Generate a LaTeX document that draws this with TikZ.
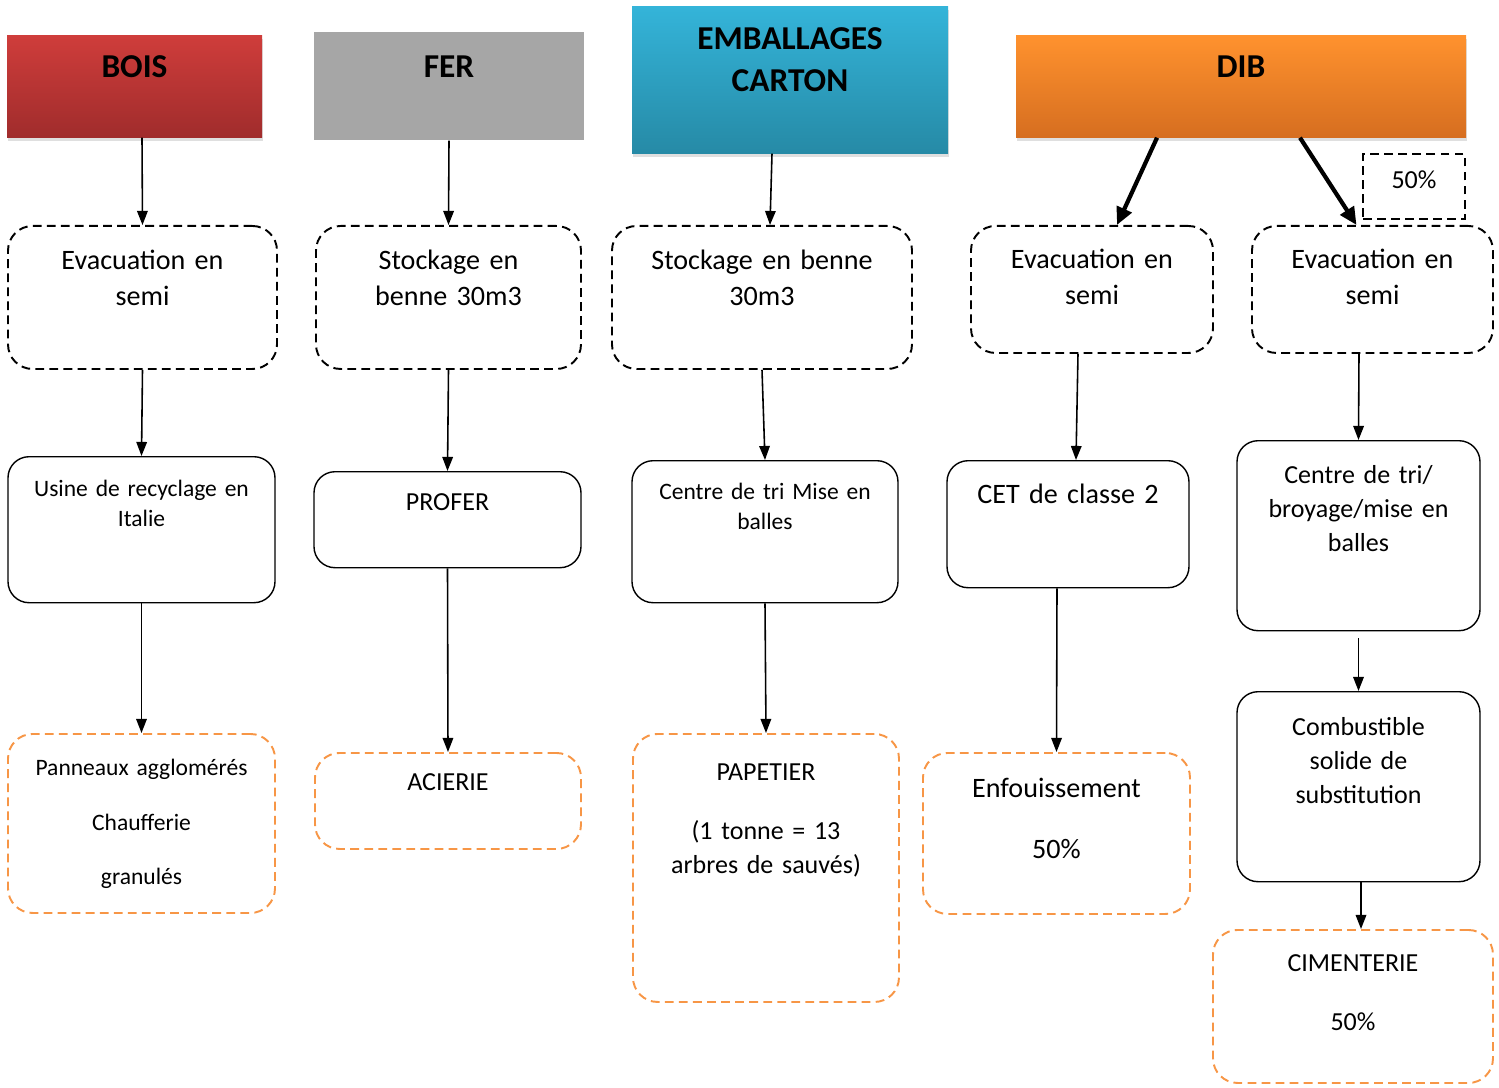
\documentclass[tikz,border=0pt]{standalone}
\usepackage{fontspec}
\setmainfont{Carlito}
\usepackage{xcolor}
\usetikzlibrary{arrows.meta,shadows}

\definecolor{boistop}{RGB}{207,61,59}
\definecolor{boisbot}{RGB}{160,44,44}
\definecolor{fergray}{RGB}{166,166,166}
\definecolor{cartontop}{RGB}{52,180,217}
\definecolor{cartonbot}{RGB}{38,138,166}
\definecolor{dibtop}{RGB}{255,146,46}
\definecolor{dibbot}{RGB}{214,110,32}
\definecolor{outorange}{RGB}{247,150,70}

\begin{document}
\begin{tikzpicture}[x=0.02cm,y=-0.02cm]
  \tikzset{bx/.style n args={3}{anchor=north, align=center, inner xsep=4pt, inner ysep=0pt,
      minimum width=#1*0.02cm, text width=#1*0.02cm-8pt,
      text height=#3*0.02cm, text depth=(#2-#3)*0.02cm}}
  \tikzset{head/.style = {font=\fontsize{19}{23.8}\selectfont\bfseries}}
  \tikzset{shadowed/.style = {drop shadow={shadow xshift=0.6pt, shadow yshift=-2pt, opacity=0.25}}}
  \tikzset{dashbox/.style = {draw, dash pattern=on 5pt off 3pt, line width=1.1pt, rounded corners=14pt}}
  \tikzset{solidbox/.style = {draw, line width=0.8pt, rounded corners=12pt}}
  \tikzset{outbox/.style = {draw=outorange, dash pattern=on 5pt off 3pt, line width=1.1pt, rounded corners=14pt}}
  \tikzset{fontL/.style = {font=\fontsize{16}{20.4}\selectfont}}
  \tikzset{fontM/.style = {font=\fontsize{14.8}{19.2}\selectfont}}
  \tikzset{fontS/.style = {font=\fontsize{13.4}{17}\selectfont}}
  \tikzset{edge/.style = {-{Triangle[length=8pt,width=6pt]}, line width=0.9pt}}
  \tikzset{bigedge/.style = {-{Triangle[length=10pt,width=9pt]}, line width=2.4pt}}

  \useasboundingbox (0,0) rectangle (1499,1088);

  % headers
  \node[head, shadowed, bx={255}{102}{42}, top color=boistop, bottom color=boisbot] (bois) at (134.5,35) {BOIS};
  \node[head, bx={270}{108}{45}, fill=fergray] (fer) at (449,32) {FER};
  \node[head, shadowed, bx={316}{147}{43}, top color=cartontop, bottom color=cartonbot] (carton) at (790,6) {EMBALLAGES\\CARTON};
  \node[head, shadowed, bx={450}{102}{42}, top color=dibtop, bottom color=dibbot] (dib) at (1241,35) {DIB};

  % stockage / evacuation
  \node[dashbox, fontL, bx={269}{143}{44}] (evacbois) at (142.5,225) {Evacuation en\\semi};
  \node[dashbox, fontL, bx={265}{143}{44}] (stockfer) at (448.5,225) {Stockage en\\benne 30m3};
  \node[dashbox, fontL, bx={300}{143}{44}] (stockcarton) at (762,225) {Stockage en benne\\30m3};
  \node[dashbox, fontL, bx={242}{127}{43}] (evacdib) at (1092,225) {Evacuation en\\semi};
  \node[dashbox, fontL, bx={241}{127}{43}] (evacdibb) at (1372.5,225) {Evacuation en\\semi};
  \node[draw, dash pattern=on 5pt off 3pt, line width=1.1pt, fontM, bx={102}{65}{35}] (part) at (1414,153) {50\%};

  % traitement
  \node[solidbox, fontS, bx={267}{146}{40}] (usine) at (141.5,456) {Usine de recyclage en\\Italie};
  \node[solidbox, fontM, bx={267}{96}{39}] (profer) at (447.5,471) {PROFER};
  \node[solidbox, fontS, bx={266}{142}{39}] (tricarton) at (765,460) {Centre de tri Mise en\\balles};
  \node[solidbox, fontL, bx={242}{127}{43}] (cet) at (1068,460) {CET de classe 2};
  \node[solidbox, fontM, bx={243}{190}{43}] (tridib) at (1358.5,440) {Centre de tri/\\broyage/mise en\\balles};
  \node[solidbox, fontM, bx={243}{190}{44}] (css) at (1358.5,691) {Combustible\\solide de\\substitution};

  % filieres
  \node[outbox, fontS, bx={267}{179}{42}] (panneaux) at (141.5,733) {Panneaux agglomérés\\[14pt]Chaufferie\\[14pt]granulés};
  \node[outbox, fontM, bx={266}{96}{38}] (acierie) at (448,752) {ACIERIE};
  \node[outbox, fontM, bx={266}{268}{47}] (papetier) at (766,733) {PAPETIER\\[14pt](1 tonne = 13\\arbres de sauvés)};
  \node[outbox, fontL, bx={267}{161}{45}] (enfouis) at (1056.5,752) {Enfouissement\\[14pt]50\%};
  \node[outbox, fontM, bx={280}{153}{42}] (ciment) at (1353,929) {CIMENTERIE\\[14pt]50\%};

  \foreach \from/\to in {evacbois/usine, usine/panneaux, fer/stockfer, stockfer/profer,
      profer/acierie, stockcarton/tricarton, tricarton/papetier}
    \draw[edge] (\from.south) -- (\to.north);

  \draw[edge] ([xshift=0.15cm]bois.south) -- (evacbois.north);
  \draw[edge] ([xshift=-0.36cm]carton.south) -- ([xshift=0.16cm]stockcarton.north);
  \draw[edge] ([xshift=-0.28cm]evacdib.south) -- ([xshift=0.16cm]cet.north);
  \draw[edge] ([xshift=-0.22cm]cet.south) -- (enfouis.north);
  \draw[edge] ([xshift=-0.27cm]evacdibb.south) -- (tridib.north);
  \draw[edge, shorten <=0.14cm] (tridib.south) -- (css.north);
  \draw[edge] ([xshift=0.05cm]css.south) -- ([xshift=0.05cm]css.south |- ciment.north);

  \draw[bigedge] ([xshift=-1.68cm]dib.south) -- ([xshift=0.5cm]evacdib.north);
  \draw[bigedge] ([xshift=1.18cm]dib.south) -- ([xshift=-0.32cm]evacdibb.north);

\end{tikzpicture}
\end{document}
